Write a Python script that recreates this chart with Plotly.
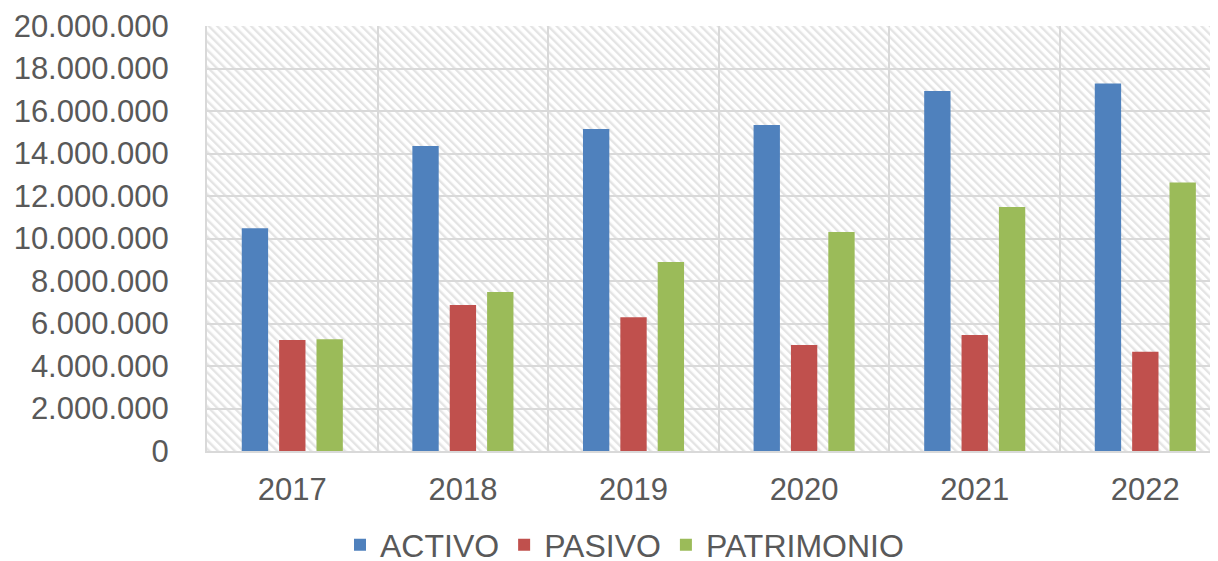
import base64
import plotly.graph_objects as go

years = ["2017", "2018", "2019", "2020", "2021", "2022"]
activo = [10480000, 14350000, 15150000, 15340000, 16940000, 17300000]
pasivo = [5220000, 6870000, 6300000, 4990000, 5460000, 4670000]
patrimonio = [5260000, 7480000, 8890000, 10310000, 11480000, 12630000]

# page body has an 8px margin, so the figure is 8px smaller than the window
W, H = 1210, 553
L, R, T, B = 199, 0, 18, 110
pw, ph = W - L - R, H - T - B

# diagonal hatch background for plot area
svg = f'''<svg xmlns="http://www.w3.org/2000/svg" width="{pw}" height="{ph}">
<defs><pattern id="p" width="6" height="6" patternUnits="userSpaceOnUse" patternTransform="rotate(-45)">
<rect width="6" height="6" fill="#ffffff"/><rect width="2.4" height="6" fill="#e4e4e4"/></pattern></defs>
<rect width="{pw}" height="{ph}" fill="url(#p)"/></svg>'''
src = "data:image/svg+xml;base64," + base64.b64encode(svg.encode()).decode()

font = "Liberation Sans, Arial, sans-serif"
grid = "#d9d9d9"

fig = go.Figure()
for name, vals, col in [("ACTIVO", activo, "#4F81BD"),
                        ("PASIVO", pasivo, "#C0504D"),
                        ("PATRIMONIO", patrimonio, "#9BBB59")]:
    fig.add_trace(go.Bar(x=years, y=vals, name=name, marker_color=col,
                         marker_line_width=0))

fig.update_layout(
    width=W, height=H,
    margin=dict(l=L, r=R, t=T, b=B, pad=0, autoexpand=False),
    paper_bgcolor="white", plot_bgcolor="rgba(0,0,0,0)",
    barmode="group", bargap=0.343, bargroupgap=0.295,
    separators=",.",
    font=dict(family=font, size=31, color="#595959"),
    images=[dict(source=src, xref="paper", yref="paper", x=0, y=1,
                 sizex=1, sizey=1, xanchor="left", yanchor="top",
                 sizing="stretch", layer="below")],
    legend=dict(orientation="h", xref="container", yref="container",
                x=332 / W, xanchor="left", y=0.029, yanchor="middle",
                font=dict(size=32, color="#595959"), itemwidth=30,
                traceorder="normal"),
    showlegend=True,
)
fig.update_xaxes(range=[-0.5, 5.426], showgrid=True, tickson="boundaries",
                 gridcolor=grid, gridwidth=2, ticks="", showline=True,
                 linecolor=grid, linewidth=2, ticklabelstandoff=10,
                 automargin=False,
                 tickfont=dict(size=31, color="#595959"))
fig.update_yaxes(range=[0, 20000000], dtick=2000000, tickformat=",d",
                 showgrid=True, gridcolor=grid, gridwidth=2, zeroline=False,
                 showline=True, linecolor=grid, linewidth=2,
                 ticks="", ticklabelstandoff=30, automargin=False,
                 tickfont=dict(size=31, color="#595959"))

fig.write_html("out.html")
